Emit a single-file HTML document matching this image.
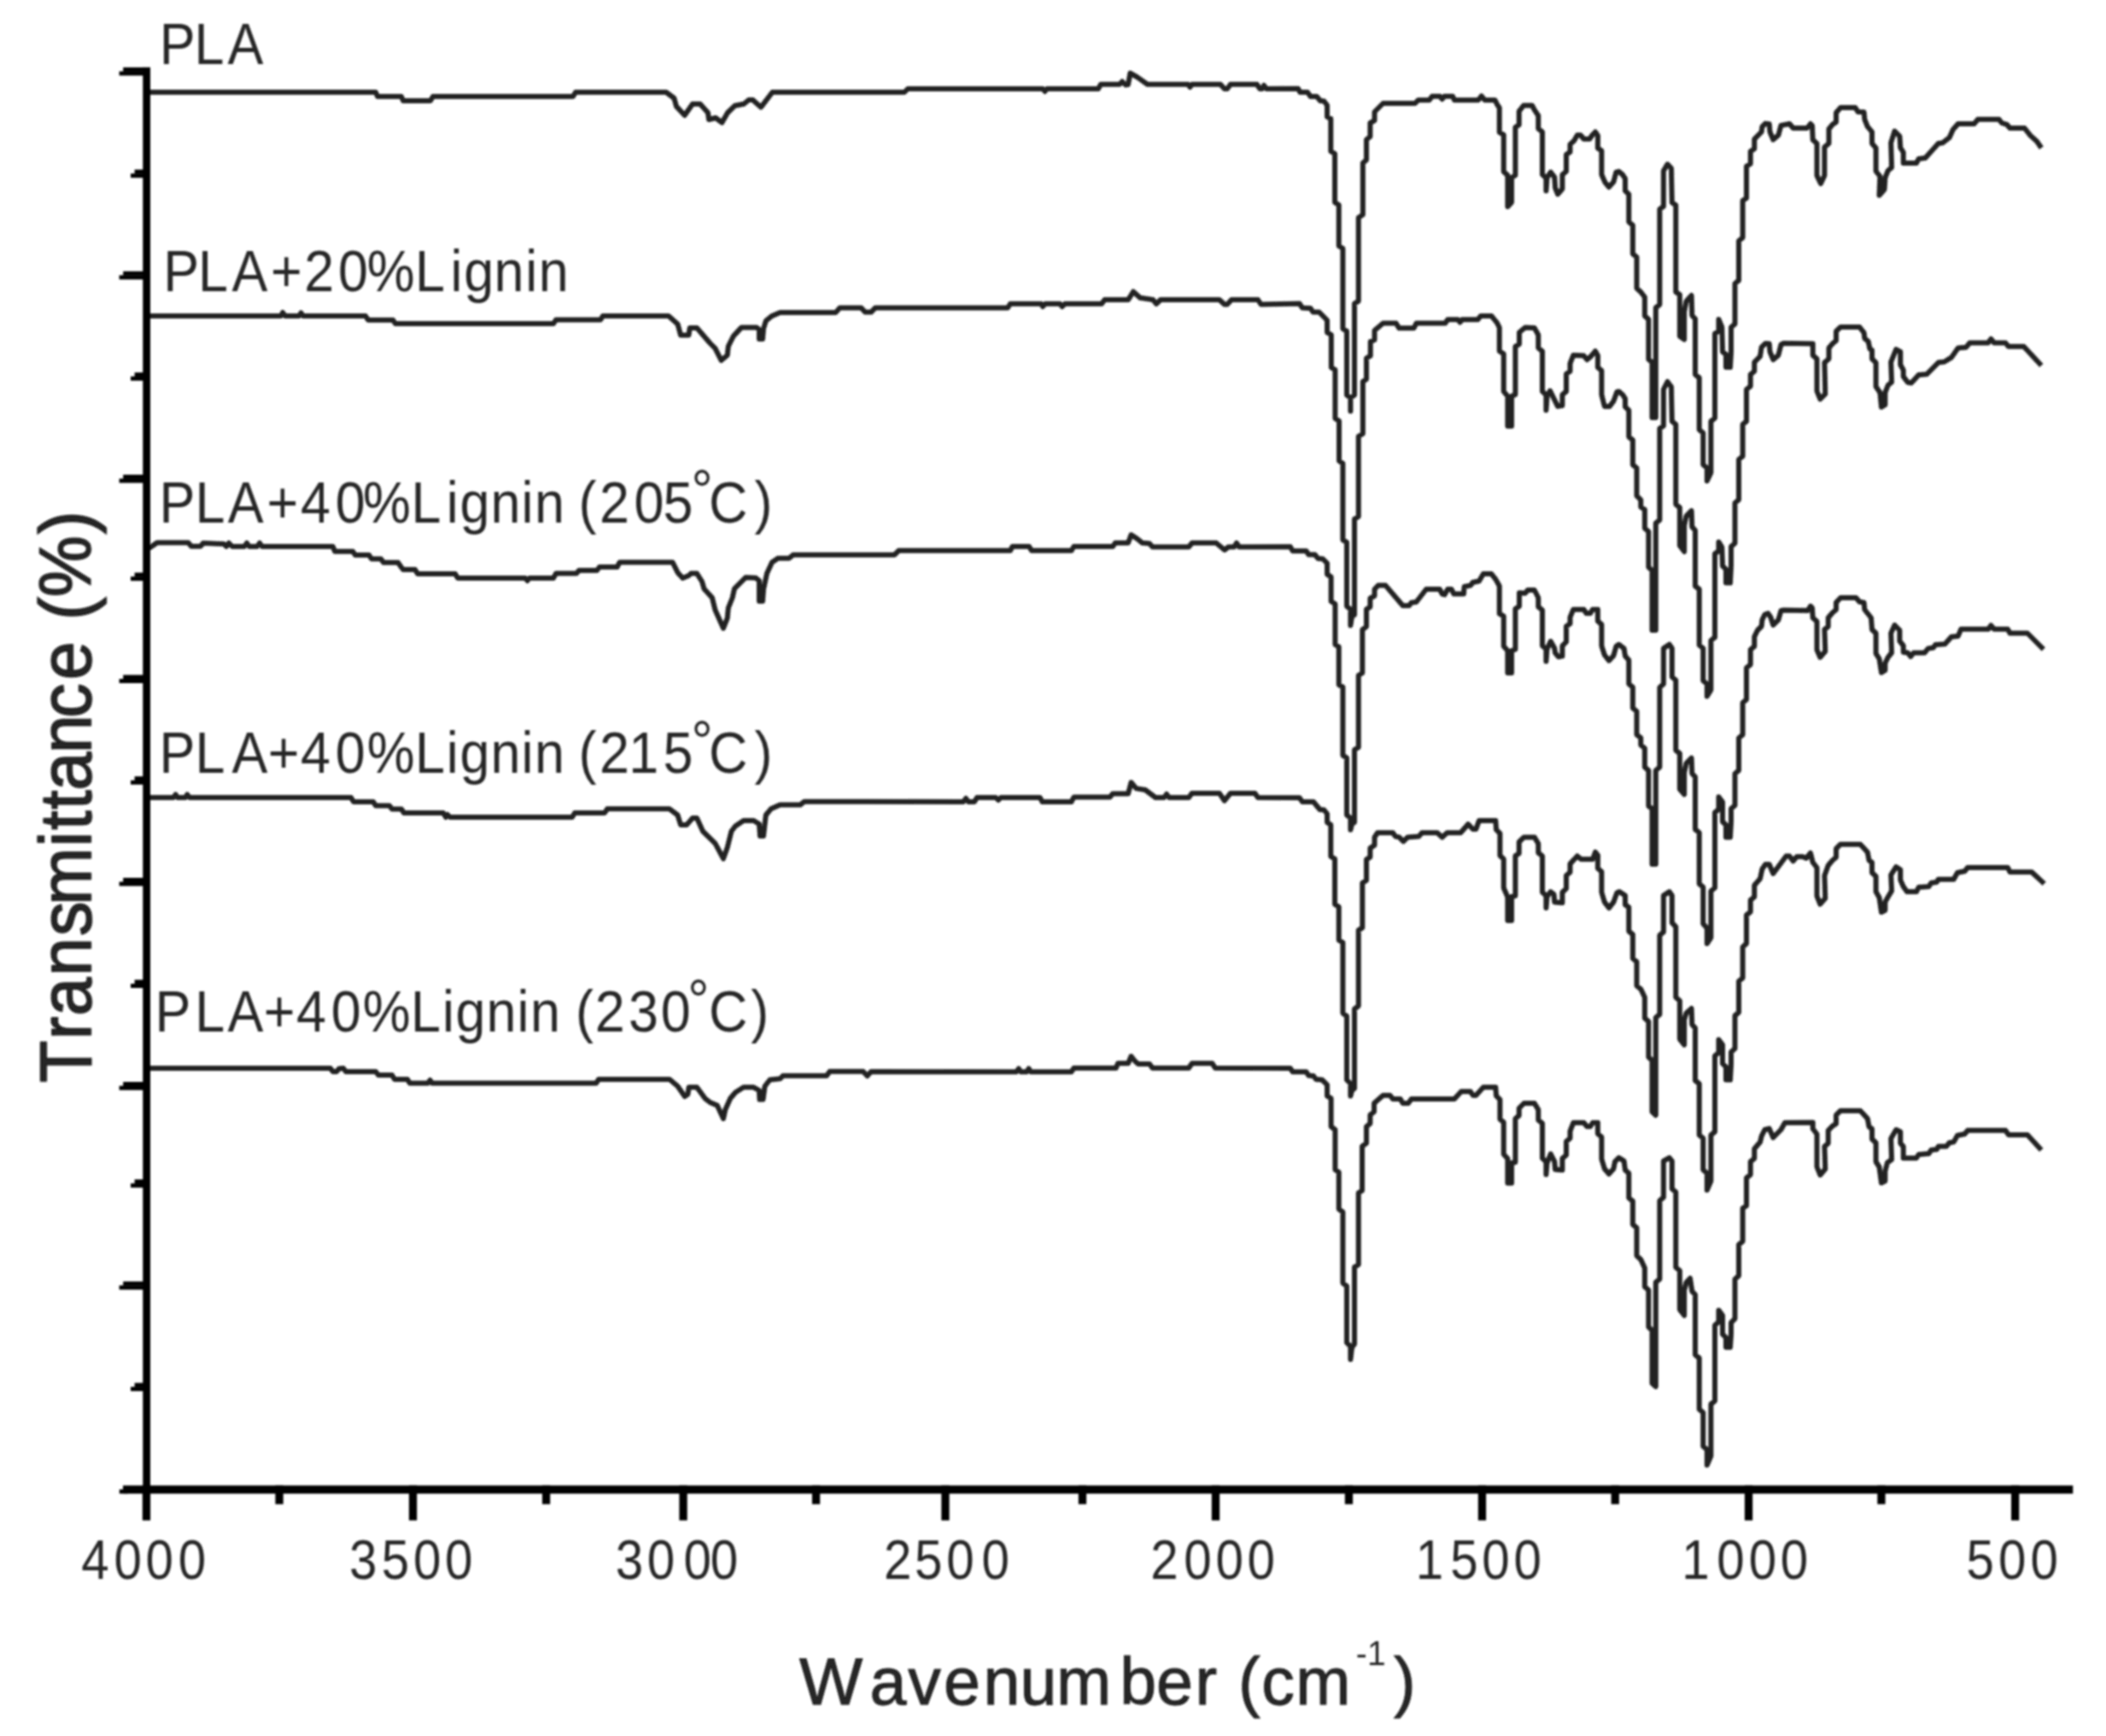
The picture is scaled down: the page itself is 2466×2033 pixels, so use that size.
<!DOCTYPE html>
<html><head><meta charset="utf-8"><title>FTIR spectra</title>
<style>
html,body{margin:0;padding:0;background:#fff;}
body{width:2466px;height:2033px;overflow:hidden;}
svg{display:block;}
text{font-family:"Liberation Sans",sans-serif;fill:#262626;}
.cv{fill:none;stroke:#222;stroke-width:6.0;stroke-linejoin:round;stroke-linecap:butt;}
</style></head><body>
<svg width="2466" height="2033" viewBox="0 0 2466 2033">
<defs><filter id="b" x="-2%" y="-2%" width="104%" height="104%"><feGaussianBlur stdDeviation="1.15"/></filter>
<filter id="b2" x="-2%" y="-2%" width="104%" height="104%"><feGaussianBlur stdDeviation="0.8"/></filter></defs>
<rect width="2466" height="2033" fill="#fff"/>

<g filter="url(#b)">
<polyline class="cv" points="171,108 440,108 442,113 470,113 472,118 504,118 507,113 671,113 674,108 780,108 789.4,115 792,124.6 801.7,135 811,121.8 819.8,121.8 829,132 830,140 838,138 845.4,143.6 852,132 860.6,123.7 871,121.8 876.8,117 881.5,117 891,125.6 904.4,108 1059,108 1063,104 1221,104 1223.6,107 1226,104 1286,104 1289,98.7 1311,98.7 1314,95.5 1318,99.5 1321,99 1323.4,85.6 1331.7,90.4 1343.5,98.7 1391,98.7 1393.4,102 1396,98.7 1429,98.7 1433.8,104 1437,104 1440.9,98.7 1471.7,98.7 1475.3,104 1478,104 1480,100 1483,104 1520,103.8 1522.3,108 1531,108 1534.6,113 1541.8,113 1546,118 1550.4,118.5 1554,123.2 1554,136.9 1558.3,139 1558.3,177.2 1563,180 1563,237 1567.7,240 1567.7,288 1572.4,291 1572.4,385 1577,387.9 1577,462.8 1581.4,465.6 1581.4,481.5 1581.4,465.6 1586,462.8 1586,355.5 1590.7,352.6 1590.7,255 1595.8,251.4 1595.8,191 1600,187.3 1600,163.5 1604.4,160 1604.4,144 1609.5,141.2 1609.5,131 1619.5,121 1657,121 1660.6,117.2 1673.6,117.2 1677,112.8 1686,112.8 1688.7,116 1691.5,112.8 1701,112.8 1703,117.2 1731,117.2 1734.8,112.5 1738.5,117.2 1750.6,117.2 1753.5,123.2 1755.7,126 1755.7,155 1760.7,157.8 1760.7,201 1765.4,205.3 1765.4,242 1770,237 1770,208 1774.4,205.3 1774.4,149 1778.7,146.3 1778.7,130.4 1784,123.5 1794,123.5 1796.7,128.6 1801.3,135.5 1801.3,150.7 1806,154.5 1806,204.6 1810.4,208.4 1810.4,223.6 1811.5,208 1815.7,201.6 1820.3,207.6 1821,219.8 1824,227.4 1829.4,221.3 1829.4,204.6 1834,200.8 1834,181 1838.5,178 1838.5,168.9 1843,165 1846.9,158.3 1850.7,158.3 1854.5,162.8 1861.3,162.8 1865,157.5 1868,154.5 1871,159 1870.9,173.5 1875.4,176.5 1875.4,204.6 1879.5,213.7 1884,219 1889.4,213 1892.4,201.6 1895.5,200.8 1900,204.6 1903,209.2 1903,223.6 1907.3,227.4 1907.3,260 1911.9,263.9 1911.9,297.3 1916.5,301 1916.5,337.6 1921.3,342 1925.9,348 1925.9,370 1930.4,374 1930.4,421 1934.5,424.2 1934.5,489 1938.8,489 1938.8,360.4 1943.4,356.6 1943.4,244.9 1947.9,241.8 1947.9,200 1952.5,192.4 1957,197 1957.8,237.3 1962.3,240.3 1962.3,342 1966.9,345 1966.9,393.8 1972.2,397.6 1972.2,365 1974.5,352.8 1980.6,346 1981.3,369.5 1985,373.3 1985,438.6 1989.7,442.4 1989.7,503.2 1994.3,507 1994.3,544.3 1998.8,548 1998.8,563.3 2003.4,553.4 2003.4,493.4 2008,489.6 2008,390.8 2012.5,387.7 2012.5,374 2016.3,383.2 2017,412 2021,415 2021,430 2026,430 2027,412 2027,383.2 2031.5,379.4 2031.5,332 2036,328.4 2036,282 2040.6,278.3 2040.6,235 2045,232 2045,194.7 2049.7,191.7 2049.7,177.2 2054.3,174.2 2054.3,162.8 2062.6,154.5 2063.4,148.4 2067.2,144.6 2071.7,145.3 2072.5,154.5 2076.3,163.6 2082.4,158.3 2085.4,146.9 2095.4,145 2099.7,150 2116,150 2120,145 2122,147 2122.7,163.8 2127.5,168 2127.5,205.6 2132,215 2136.4,205.6 2136.4,172.3 2141.5,168 2141.5,151 2145.8,145.8 2150,143 2150,132 2155.2,126 2172.3,126 2175.7,131 2182.6,131.3 2183.4,139.8 2186.8,148.4 2192,154.4 2192,168 2196.6,173.2 2196.6,200.5 2201.4,206.5 2200.5,228.7 2206.5,221.9 2207.4,208.2 2210.8,199.7 2215,196.2 2214.2,167.2 2218.5,153.5 2224.4,159.5 2225.3,173.2 2228.7,178.3 2228.7,191 2244,191 2246.7,186 2254.4,185 2269.7,168 2274.9,167.2 2282.6,161.2 2286.8,151.8 2292.8,145 2311.6,145 2315.9,139.8 2340.7,139.8 2344,144 2350,145.8 2353.5,150 2370.6,150 2377.4,158.6 2385,165.5 2390.3,173.2"/>
<polyline class="cv" points="171,370 329,370 331,366 334,370 350,370 352.5,366.5 355,370 428,370 431,374.7 460,374.7 463,379 648,379 651,374.6 703,374.6 706,370 782.8,370 793.5,379.4 797,392.4 806.5,392.4 807.7,384 816,384 831.5,402 837.4,407.9 844.5,422 851.7,416 852.8,405.5 858.8,393.6 868.3,383.4 886,383.4 889,386 889,397 893,397 894,385 896.8,375.8 904,369.9 913.4,365.9 978.7,365.9 983.4,360.4 1008.4,360.4 1013,365.6 1020,365.6 1025,360.4 1180,360.4 1183,355.8 1219,355.8 1221,359 1224,355.8 1241,355.8 1243.8,359 1247,355.8 1290,355.8 1293.5,351 1321,351 1323,348 1327,341.5 1335,348.7 1343.5,350 1350,351 1354,355.8 1359,351 1427.8,351 1433.8,356.5 1437,356.5 1442,351 1473,351 1476.5,356.5 1521.6,355.5 1525,360.5 1534.6,361 1537.4,365.5 1544.6,365.5 1554,375 1554,389.3 1558.8,392 1558.8,430.3 1563.4,433 1563.4,490 1568,493 1568,539.8 1572.4,542.7 1572.4,632.3 1577,635 1577,710 1581.4,713.6 1581.4,732.4 1583,722 1586,720 1586,607.8 1590.7,605 1590.7,511 1595.8,508 1595.8,447 1600,444 1600,419.5 1604.7,416.7 1604.7,400 1609.5,398 1609.5,387 1619.5,378.5 1634.7,378.5 1638.3,384.3 1655.6,384.3 1658.4,378.5 1692.3,378.5 1695.2,374.2 1707,374.2 1709.6,377.5 1712,374.2 1730.4,374.2 1734,369.9 1746.3,369.9 1752.8,377.8 1755.7,383.5 1755.7,411 1760.7,414.5 1760.7,458.4 1765.4,464 1765.4,499 1770,499 1770,464 1774.4,462 1774.4,405.9 1779,403 1779,389.3 1785.9,383.5 1796.7,384 1801.3,392.3 1801.3,407.5 1806,411.3 1806,458.4 1810.4,462.2 1810.4,480.4 1811.5,464 1815,457.6 1819.5,466.8 1824,475.9 1829.4,475 1829.4,462.2 1834,458.4 1834,437.9 1838.5,434.8 1838.5,425.7 1842.3,415.9 1854.5,416.6 1858.3,421.2 1862.8,417.4 1868,411.3 1871,416.6 1870.9,430.3 1875.4,434 1875.4,462.2 1878.8,475.9 1884.8,475.9 1889.4,469.8 1893.2,459.2 1895.5,458.4 1900,462.2 1903,466.8 1903,476.6 1907.3,480.4 1907.3,511.6 1911.9,515.4 1911.9,544.3 1916.5,548 1916.5,580.7 1921.3,585.3 1921.3,593.7 1925.9,596.7 1925.9,618.7 1930.4,622.5 1930.4,664.3 1934.5,668 1934.5,738 1938.8,738 1938.8,612.7 1943.4,609 1943.4,501.7 1947.9,498.7 1947.9,456 1952.5,447 1957,453 1957.8,493.4 1962.3,497 1962.3,590.6 1966.9,594.4 1966.9,639 1972.2,646 1972.2,615 1974.5,604.3 1980.6,598.2 1981.3,617.2 1985,621 1985,686.4 1989.7,690 1989.7,755.5 1994.3,759.3 1994.3,797.3 1998.8,801 1998.8,815.5 2003.4,808 2003.4,750 2008,746.4 2008,648.4 2012.5,645.3 2012.5,634.7 2016.3,640.8 2017,662.8 2021,666.6 2021,682.6 2026,682.6 2027,662 2027,640 2031.5,636.2 2031.5,589 2036,585.3 2036,538 2040.6,534.4 2040.6,497 2045,493.4 2045,456 2049.7,452.3 2049.7,438.6 2054.3,434.8 2054.3,424.2 2061,417.4 2062.6,406.7 2067.2,402.2 2071.7,402.6 2072.5,412 2076.3,421.2 2082.4,415.9 2085.4,403.7 2088.5,402 2122.7,402.4 2122.7,416 2127.5,420.3 2127.5,458 2131.3,467.4 2137.3,461.4 2136.4,424.6 2141.5,420.3 2141.5,407.5 2145.8,402.4 2150,399 2150,387.9 2155.2,383 2177.4,383 2182.6,389.6 2183.4,396.4 2187.7,399.8 2189.4,408.4 2192,410 2192,420.3 2196.6,424.6 2196.6,452.8 2201.4,459.7 2203,476.8 2207.4,474 2207.4,459.7 2210.8,451 2215,447.7 2214.2,423.8 2220.2,409.2 2225.3,411.8 2225.3,427.2 2228.7,433.2 2228.7,440.9 2233.8,447.7 2238,448.5 2246.7,439 2256,438.3 2269.7,424.6 2276.6,423.8 2285,418.6 2292.8,407.5 2302.2,406.7 2306.5,401.5 2328,401.5 2331.3,397 2335,401.5 2348.4,401.5 2351.8,405.8 2369.7,405.8 2390.3,428"/>
<polyline class="cv" points="171.5,641 176,641 184,635.5 220.4,635.5 224,639.7 235,639.7 238,636 262,637 265,640 268,636 272,640 286,640 289,636 292,640 301,640 304,636 307,640 389.8,640 392,645.7 413,645.7 416,650 432,650 435,654.4 446,654.4 449,658.7 466,658.7 469,663 472,667 486,667 489,672 533,672 536,677 615,677 617.6,680 620,677 648,677 651,671.6 675,671.6 678,668 699,668 702,664 722.6,664 725.6,658.5 787.6,658.5 793.5,670.4 799.4,677 806.6,674 809,671.6 816,671.6 822,681 824.4,689.4 833.9,700 837.4,714.3 847,735.7 851.7,723.8 852.8,712 857.6,700 860,689.4 873,676.3 885,676.8 889,680 889,704 893,704 894,690 898,671.6 904,658.5 911,653.8 924,653.8 928.8,649.7 1047.5,649.7 1052.3,644.8 1183,644.8 1185.5,640 1205,640 1208,644.8 1254.5,644.8 1257.5,640 1303,640 1306,635.8 1321,635.8 1324.5,626.3 1331.7,631 1337.6,635.8 1346,636.5 1349.5,640.5 1392,640.5 1395.8,635.8 1424,635.8 1433.8,644 1438.5,640.5 1445,640.5 1448,636 1451,640.5 1510.8,640.2 1513.7,645.2 1529.5,645.2 1532.4,649.5 1539.6,649.5 1543.2,653.9 1549,654.5 1554,659.6 1554,672.6 1558.6,675.5 1558.6,704.3 1563.4,707.2 1563.4,754.7 1567.7,757.6 1567.7,801.8 1572.4,804.6 1572.4,884.6 1577,887.5 1577,954.4 1581.4,958 1581.4,971.7 1583,965 1586,963 1586,878 1590.7,875.2 1590.7,791 1595.3,788 1595.3,737.4 1600,733.8 1600,713.6 1604.4,710.8 1604.4,700.7 1609.5,697.8 1609.5,690 1613.8,685.6 1622.4,685.6 1642.6,709.3 1649.8,709.3 1652.7,705.7 1658.4,705 1670,690 1685.8,690 1688.7,695.6 1691.5,696.4 1695.2,690 1699.5,690 1702.4,695.6 1713.9,695.6 1714.6,687 1721.8,685.6 1724.7,682 1731.9,680.5 1736.9,672 1746.3,672 1751.3,678.4 1755.7,686.3 1755.7,718.7 1760.7,721.6 1760.7,756.8 1765.4,762 1765.4,788 1770,788 1770,762 1774.4,760.4 1774.4,713 1779,710 1779,694.2 1786,694.7 1789,691 1796.7,691 1801.3,700 1801.3,710.7 1806,714.5 1806,756.3 1810.4,760 1810.4,774.5 1811.5,760 1815.7,751 1820.3,759.3 1821,764.6 1824.8,769.2 1829.4,768.4 1829.4,756.3 1834,751.7 1834,733.5 1838.5,730.4 1838.5,722.8 1842.3,713.7 1854.5,713.7 1857.5,718.3 1862,718.3 1865,713.7 1870.9,713.7 1870.9,727.4 1875.4,731.2 1875.4,756.3 1878.8,767 1884,773.7 1889.4,767.7 1892.4,757 1895.5,754.7 1901.6,759.3 1903,768.4 1907.3,773 1907.3,801 1911.9,804.9 1911.9,829.2 1916.5,833 1916.5,860.4 1921.3,864.2 1921.3,872.5 1925.9,876.3 1925.9,898.4 1930.4,902.2 1930.4,944 1934.5,947 1934.5,1012 1938.8,1012 1938.8,902.2 1943.4,898.4 1943.4,804.9 1947.9,801 1947.9,759.3 1954.7,754.7 1957.8,759.3 1957.8,792.7 1962.3,796.5 1962.3,878.6 1966.9,882.4 1966.9,924.2 1972.2,930.3 1972.2,904.5 1974.5,893.8 1980.6,887.7 1981.3,906 1985,909.8 1985,971.3 1989.7,975 1989.7,1035 1994.3,1039 1994.3,1082 1998.8,1086.8 1998.8,1105 2003.4,1098 2003.4,1043.5 2008,1039.7 2008,951.6 2012.5,947.8 2012.5,933.3 2017,939.4 2017,962.2 2021,966 2021,980.4 2026,980.4 2027,962 2027,947 2031.5,943.2 2031.5,906 2036,902.2 2036,864.2 2040.6,860.4 2040.6,823 2045,819.3 2045,782 2049.7,778.3 2049.7,760.8 2054.3,757 2054.3,745.6 2058,738 2062.6,733.5 2063.4,725.9 2066.4,719.8 2070.2,718.3 2073.3,722.8 2076.3,732 2082.4,725.9 2085.4,715.2 2088.5,714.5 2116.8,715 2120,709.8 2122,712 2122.7,723.5 2127.5,727.8 2127.5,761 2131.3,769.7 2137.3,762.8 2136.4,737.2 2140.7,733.8 2140.7,723.5 2145.8,717.5 2150,714 2150,705.6 2155.2,700 2173.2,700 2177.4,704.7 2182.6,705.6 2183.4,714 2191,723.5 2192,737.2 2196.6,741.5 2196.6,765.4 2200.5,771.4 2203,787.6 2207.4,785 2207.4,776.5 2210.8,769.7 2215,764.5 2214.2,741.5 2218.5,732 2224.4,738 2224.4,750.9 2228.7,756 2228.7,763.7 2234,764.5 2237.3,768.8 2240.7,764.5 2253.5,764.5 2257.8,759.4 2263.8,758.5 2266.3,755 2277.4,754.3 2285,745.7 2292.8,744.9 2296.2,736.8 2328,736.8 2331.3,732.5 2335,736.8 2351,736.8 2353.5,741.5 2374,741.5 2392.8,760.3"/>
<polyline class="cv" points="171.5,934 203,934 205.6,930.5 208,934 217,934 219.3,930.5 222,934 411,934 414,939 437,939 440,943.5 456,943.5 459,947.5 470,947.5 473,952 519,952 522,957 524,954 527,957 670,957 673,952 708,952 711,947.3 784,947.3 793.5,954.5 797,965.9 804,965.9 811,958 816,958 823,973.5 837.4,987.7 847,1005.5 851.7,992.5 856.4,973.5 861,967.5 870.7,961 882.5,961 889,965 890,979 894,979 896.8,954.5 902.7,947.3 913.4,942.6 937,942.6 941.9,938.7 1128,938.9 1131,935 1134,938.9 1141,938.9 1144,934 1166,934 1169,937 1172,934 1217.7,934 1220.5,938.9 1254.5,938.9 1257.5,933.6 1299.6,933.6 1303,929.4 1321,929.4 1324.5,916.3 1330.5,923.4 1341,925 1353,934 1363,934 1366,930 1369,934 1392,934 1395.8,928.9 1427.8,928.9 1433.8,937.7 1440.9,928.9 1469.4,928.9 1473,934 1521.6,934.3 1525,939 1538,939 1545.4,948 1550.4,948.5 1554,953 1554,963 1558.3,966 1558.3,1003 1563,1005.8 1563,1059 1567.7,1062 1567.7,1101 1572.4,1103.8 1572.4,1186.6 1577,1190 1577,1264.6 1581.4,1269 1581.4,1283.4 1583,1277 1586,1274.7 1586,1181.6 1590.7,1178 1590.7,1089.4 1595.3,1086.5 1595.3,1034 1600,1031 1600,1006.6 1604.4,1003.7 1604.4,993.3 1609.5,989.7 1609.5,980.4 1613,975.3 1631,975.3 1634,979.6 1638.3,980.4 1643.3,985.4 1648.3,980.4 1661.3,979.6 1665,975.3 1683,975.3 1688.7,980.4 1694.4,975.3 1710.3,975.3 1719,965.2 1724.7,971 1728.3,971 1731.9,961 1751.3,961 1752,971.7 1756.4,976 1756.4,1002 1760.7,1006 1760.7,1039.7 1765.4,1050.5 1765.4,1077.9 1770,1077.9 1770,1050 1774.4,1049 1774.4,1002.2 1778.7,999.4 1778.7,986 1784.5,980.4 1796.7,980.4 1801.3,988 1801.3,998.7 1806,1002.5 1806,1045 1810.4,1048.8 1810.4,1063.3 1811.5,1050 1815.7,1044.3 1819.5,1047.3 1820.3,1056.4 1829.4,1057.2 1829.4,1045 1834,1040.5 1834,1025.3 1838.5,1021.5 1838.5,1011.6 1846.9,1002.5 1851.4,1006.3 1865,1006.3 1868,997.9 1871,1001.7 1870.9,1017 1875.4,1020.7 1875.4,1045 1878.8,1056.4 1884,1063.3 1889.4,1056.4 1893.2,1045.8 1896.2,1044.3 1903,1048.8 1903,1059.5 1907.3,1062.5 1907.3,1090.6 1911.9,1094.4 1911.9,1122.5 1916.5,1126.3 1916.5,1154.5 1921.3,1158.3 1925.9,1168 1925.9,1192.4 1930.4,1196.2 1930.4,1238 1934.5,1241.8 1934.5,1302 1938.8,1306 1938.8,1191.7 1943.4,1187.9 1943.4,1095.2 1947.9,1091.4 1947.9,1048.8 1954.7,1044.3 1957.8,1048.8 1957.8,1080.7 1962.3,1085.3 1962.3,1168 1966.9,1172 1966.9,1216.8 1972.2,1223.6 1972.2,1194 1974.5,1186.4 1980.6,1181 1981.3,1200 1985,1203.8 1985,1265.4 1989.7,1269.2 1989.7,1329.2 1994.3,1333 1994.3,1370 1998.8,1374 1998.8,1393.8 2003.4,1383 2003.4,1329.2 2008,1325.4 2008,1236.5 2012.5,1232.7 2012.5,1217.5 2017,1223.6 2017,1245.6 2021,1249.4 2021,1264.6 2026,1264.6 2027,1246 2027,1232 2031.5,1228 2031.5,1189.4 2036,1185.6 2036,1149 2040.6,1145.3 2040.6,1109 2045,1105 2045,1071.6 2049.7,1067.8 2049.7,1054 2054.3,1050.3 2054.3,1036.7 2061,1029 2063.4,1017.7 2067.2,1012.3 2071.7,1012.3 2076.3,1023 2091.5,1002.5 2095.3,1002.5 2099.7,1008.4 2104,1003.2 2110.8,1003.2 2115,1005 2120,999 2122.7,1010 2127.5,1016 2127.5,1049.4 2131.3,1058.8 2137.3,1052 2136.4,1025.5 2140.7,1013.5 2145.8,1007.5 2150,1004 2150,993.8 2155.2,988.7 2178.3,988.7 2186.8,998 2188.5,1007.5 2192,1010 2192,1022 2196.6,1026.3 2196.6,1044.3 2200.5,1051 2203,1068.2 2207.4,1066 2207.4,1056.2 2210.8,1050.3 2215,1043.4 2214.2,1024.6 2220.2,1015.2 2225.3,1018.6 2225.3,1030.6 2228.7,1038.3 2233,1044.3 2244,1044.3 2246.7,1039 2258.6,1038.3 2261.2,1034 2268,1033 2269.7,1029.7 2287.7,1029.7 2292,1022 2300.5,1020.3 2304,1016 2351,1016 2353.5,1021.2 2379,1021.2 2393.7,1034.9"/>
<polyline class="cv" points="171.5,1251 386.7,1251 390,1255 394,1255 397,1251.5 402,1251 405,1255 440,1255 443,1259 459,1259 462,1264 477,1264 480,1268.6 501,1268.6 503.6,1265 506,1268.6 698,1268.6 701,1264 784,1264 793.5,1272 801.8,1284 805.4,1281.6 806.6,1273.3 816,1273.3 825.5,1286.3 831.5,1291 839.8,1294.6 847,1310 849.3,1299.4 855.2,1286.3 861.2,1279.2 870.7,1273.3 882.5,1273.3 889,1277 889.5,1287.5 893.5,1287.5 895.6,1272 901.5,1264.5 913.4,1263.3 917,1259.7 968,1259.7 971.6,1254.8 1010.7,1254.8 1015.5,1260 1020,1255 1190,1255.2 1192.8,1251.5 1195.5,1255.2 1202,1255.2 1204.6,1251.5 1207,1255.2 1254.5,1255.2 1257.5,1250.8 1306.7,1250.8 1309,1245.3 1321,1245.3 1324.5,1237 1329.3,1243 1332.8,1246 1346,1246 1349.5,1250.8 1392,1250.8 1395.8,1245.3 1419.5,1245.3 1423,1250.8 1510.8,1251 1513.7,1255.3 1529.5,1255.3 1532.4,1259.6 1538,1260 1541,1264 1548,1264.5 1554,1270.4 1554,1283.4 1558.6,1286.3 1558.6,1319.4 1563.4,1323 1563.4,1369.8 1567.7,1372.7 1567.7,1415.9 1572.4,1419.5 1572.4,1502.6 1577,1506.2 1577,1572.4 1581.4,1576.7 1581.4,1591.9 1583,1578 1586,1573.9 1586,1483.8 1590.7,1481 1590.7,1397 1595,1394.3 1595,1342.4 1600,1338.8 1600,1319.4 1604.4,1315.8 1604.4,1305.7 1609,1302 1609,1292 1613.8,1287.7 1619.5,1282.7 1627.5,1282.7 1631,1287 1639.7,1287 1642.6,1292 1649,1292 1652.7,1287 1703,1287 1711,1278.3 1721.8,1278.3 1724.7,1282.7 1728.3,1282.7 1736.9,1273.3 1751.3,1273.3 1752,1283.4 1756.4,1287.7 1756.4,1310.7 1760.7,1314.3 1760.7,1351.8 1765.4,1356.8 1765.4,1385.6 1770,1385.6 1770,1362 1774.4,1361 1774.4,1310 1778.7,1306.4 1778.7,1297.8 1784.5,1292 1796.7,1292 1801.3,1299.6 1801.3,1311.7 1806,1315.5 1806,1356.6 1810.4,1360.4 1810.4,1375.6 1811.5,1362 1815.7,1351.3 1820.3,1360.4 1821,1369.5 1829.4,1370.3 1829.4,1356.6 1834,1352.8 1834,1336.8 1838.5,1333 1838.5,1324.6 1842.3,1314.8 1854.5,1314.8 1858.3,1319.3 1862,1319.3 1865,1314.8 1870.9,1314.8 1870.9,1327.7 1875.4,1331.5 1875.4,1357.4 1878.8,1368.7 1884,1374.8 1889.4,1368.7 1891,1360.4 1895.5,1355.8 1901.6,1359.6 1903,1370.3 1907.3,1374 1907.3,1403 1911.9,1406.7 1911.9,1434 1916.5,1437.9 1916.5,1470.6 1921.3,1475 1925.9,1485 1925.9,1507 1930.4,1510.8 1930.4,1554 1934.5,1558 1934.5,1620 1938.8,1623.8 1938.8,1501.7 1943.4,1498 1943.4,1406 1947.9,1402.2 1947.9,1359.6 1954.7,1355.8 1957.8,1359.6 1957.8,1392.3 1962.3,1396 1962.3,1484.2 1966.9,1488 1966.9,1533.6 1972.2,1540.5 1972.2,1510.8 1974.5,1501.7 1979,1497 1981.3,1512.3 1985,1516 1985,1586.6 1989.7,1590.4 1989.7,1650.4 1994.3,1654.2 1994.3,1693.7 1998.8,1697.5 1998.8,1715.8 2003.4,1705 2003.4,1644.4 2008,1640.6 2008,1551.9 2012.5,1548 2012.5,1534.4 2017,1540.5 2017,1562.5 2021,1566.3 2021,1577.7 2026,1577.7 2027,1562 2027,1548.8 2031.5,1544.3 2031.5,1498 2036,1494 2036,1457.6 2040.6,1453.8 2040.6,1415 2045,1412 2045,1379.4 2049.7,1375.6 2049.7,1360.4 2054.3,1356.6 2054.3,1345.2 2061,1337.6 2062.6,1330.7 2066.4,1323 2071.7,1321.6 2076.3,1332.2 2085.4,1323 2090,1314.8 2122.7,1314.4 2122.7,1322 2127.5,1328 2127.5,1366.5 2131.3,1376 2137.3,1369 2136.4,1342.6 2140.7,1339 2140.7,1323.8 2145.8,1318.6 2150,1316 2150,1305.8 2155.2,1300.7 2178.3,1300.7 2186.8,1310 2188.5,1319.5 2192,1322 2192,1334 2196.6,1338.3 2196.6,1360.5 2200.5,1366.5 2203,1385.3 2207.4,1383 2207.4,1371.6 2210,1361.4 2215,1358 2214.2,1333.2 2220.2,1323 2225.3,1325.5 2225.3,1339 2228.7,1342.6 2228.7,1356.2 2244,1356.2 2246.7,1352 2258.6,1351 2261.2,1346.8 2268,1346 2269.7,1342.6 2279,1342.6 2282.6,1338.3 2287.7,1337.4 2292,1329.7 2300.5,1328 2304,1323.8 2348.4,1323.8 2351.8,1328.9 2374,1328.9 2390.3,1346.8"/>
</g>
<g fill="#000" filter="url(#b2)">
<rect x="167.3" y="78.8" width="8.7" height="1670.4"/>
<rect x="144" y="1739.6" width="2283.3" height="9.6"/>
<rect x="139.8" y="1744.1999999999998" width="10" height="5.0"/>
<rect x="166.8" y="1739.6" width="9.3" height="40.9"/>
<rect x="478.9" y="1739.6" width="9.3" height="40.9"/>
<rect x="795.4" y="1739.6" width="9.3" height="40.9"/>
<rect x="1102.3" y="1739.6" width="9.3" height="40.9"/>
<rect x="1418.8" y="1739.6" width="9.3" height="40.9"/>
<rect x="1730.8" y="1739.6" width="9.3" height="40.9"/>
<rect x="2042.9" y="1739.6" width="9.3" height="40.9"/>
<rect x="2355.0" y="1739.6" width="9.3" height="40.9"/>
<rect x="322.4" y="1739.6" width="9.3" height="21.9"/>
<rect x="634.9" y="1739.6" width="9.3" height="21.9"/>
<rect x="950.9" y="1739.6" width="9.3" height="21.9"/>
<rect x="1262.8" y="1739.6" width="9.3" height="21.9"/>
<rect x="1574.8" y="1739.6" width="9.3" height="21.9"/>
<rect x="1886.6" y="1739.6" width="9.3" height="21.9"/>
<rect x="2198.3" y="1739.6" width="9.3" height="21.9"/>
<rect x="144.2" y="78.9" width="24.1" height="5"/>
<rect x="139.6" y="83.5" width="28.7" height="5"/>
<rect x="157.6" y="198.6" width="10.7" height="5"/>
<rect x="153.0" y="203.2" width="15.3" height="5"/>
<rect x="144.2" y="317.7" width="24.1" height="5"/>
<rect x="139.6" y="322.3" width="28.7" height="5"/>
<rect x="157.6" y="436.2" width="10.7" height="5"/>
<rect x="153.0" y="440.8" width="15.3" height="5"/>
<rect x="144.2" y="555.9" width="24.1" height="5"/>
<rect x="139.6" y="560.5" width="28.7" height="5"/>
<rect x="157.6" y="670.6" width="10.7" height="5"/>
<rect x="153.0" y="675.2" width="15.3" height="5"/>
<rect x="144.2" y="790.4" width="24.1" height="5"/>
<rect x="139.6" y="795.0" width="28.7" height="5"/>
<rect x="157.6" y="909.2" width="10.7" height="5"/>
<rect x="153.0" y="913.8" width="15.3" height="5"/>
<rect x="144.2" y="1028.0" width="24.1" height="5"/>
<rect x="139.6" y="1032.6" width="28.7" height="5"/>
<rect x="157.6" y="1147.4" width="10.7" height="5"/>
<rect x="153.0" y="1152.0" width="15.3" height="5"/>
<rect x="144.2" y="1267.0" width="24.1" height="5"/>
<rect x="139.6" y="1271.6" width="28.7" height="5"/>
<rect x="157.6" y="1381.2" width="10.7" height="5"/>
<rect x="153.0" y="1385.8" width="15.3" height="5"/>
<rect x="144.2" y="1500.7" width="24.1" height="5"/>
<rect x="139.6" y="1505.3" width="28.7" height="5"/>
<rect x="157.6" y="1619.5" width="10.7" height="5"/>
<rect x="153.0" y="1624.1" width="15.3" height="5"/>
</g>
<g filter="url(#b)">
<text x="205.1 250.1 292.8" y="74.9" font-size="69" transform="scale(0.91,1)">PLA</text>
<text x="210.1 255.0 298.3 348.5 391.6 435.3 472.2 534.1 579.6 596.9 635.6 676.0 693.1" y="341.4" font-size="69" transform="scale(0.91,1)">PLA+20%Lignin</text>
<text x="204.9 251.0 293.2 343.3 386.9 431.5 467.0 529.0 574.5 591.7 631.2 670.9 687.9 725.3 744.6 771.3 815.9 853.4 889.5 912.1 970.8" y="611.6 611.6 611.6 611.6 611.6 611.6 611.6 611.6 611.6 611.6 611.6 611.6 611.6 611.6 611.6 611.6 611.6 611.6 598.4 611.6 611.6" font-size="69" transform="scale(0.91,1)">PLA+40%Lignin (205°C)</text>
<text x="204.9 251.0 298.3 344.7 386.9 431.5 472.2 534.1 574.5 591.7 631.2 670.9 687.9 725.3 744.6 771.3 809.2 853.4 889.5 912.1 970.8" y="905.0 905.0 905.0 905.0 905.0 905.0 905.0 905.0 905.0 905.0 905.0 905.0 905.0 905.0 905.0 905.0 905.0 905.0 891.8 905.0 905.0" font-size="69" transform="scale(0.91,1)">PLA+40%Lignin (215°C)</text>
<text x="199.4 250.8 292.8 339.2 381.4 426.0 466.7 528.6 569.2 586.2 625.7 665.4 682.5 719.8 740.7 765.8 808.9 850.3 884.9 912.1 966.1" y="1207.8 1207.8 1207.8 1207.8 1207.8 1207.8 1207.8 1207.8 1207.8 1207.8 1207.8 1207.8 1207.8 1207.8 1207.8 1207.8 1207.8 1207.8 1194.6 1207.8 1207.8" font-size="69" transform="scale(0.91,1)">PLA+40%Lignin (230°C)</text>
<text x="107.1 149.9 191.5 234.7" y="1849.5" font-size="65.5" transform="scale(0.89,1)">4000</text>
<text x="459.5 502.1 543.7 585.3" y="1849.5" font-size="65.5" transform="scale(0.89,1)">3500</text>
<text x="809.9 851.4 899.5 934.6" y="1849.5" font-size="65.5" transform="scale(0.89,1)">3000</text>
<text x="1162.8 1203.4 1245.2 1291.6" y="1849.5" font-size="65.5" transform="scale(0.89,1)">2500</text>
<text x="1513.8 1557.7 1599.4 1640.9" y="1849.5" font-size="65.5" transform="scale(0.89,1)">2000</text>
<text x="1862.7 1908.2 1949.8 1991.5" y="1849.5" font-size="65.5" transform="scale(0.89,1)">1500</text>
<text x="2212.7 2258.8 2300.9 2342.5" y="1849.5" font-size="65.5" transform="scale(0.89,1)">1000</text>
<text x="2587.0 2629.2 2671.4" y="1849.5" font-size="65.5" transform="scale(0.89,1)">500</text>
<text x="935.9 1018.5 1063.3 1104.9 1151.6 1194.4 1237.1 1311.2 1353.9 1399.5 1435.0 1450.1 1477.3 1517.3" y="1996.0" font-size="77" fill="#101010" stroke="#101010" stroke-width="0.9"><tspan font-size="78.5">W</tspan>avenumber (cm</text>
<text x="1671.2 1685.3" y="1949.6" font-size="41" transform="scale(0.95,1)" fill="#3a3a3a">-1</text>
<text x="1632.0" y="1996.0" font-size="77" fill="#101010" stroke="#101010" stroke-width="0.9">)</text>
<text transform="translate(106.2,0) rotate(-90) scale(0.95,1)" x="-1334.6 -1281.6 -1252.3 -1203.0 -1153.9 -1115.7 -1043.8 -1023.0 -997.9 -974.5 -928.6 -885.0 -838.1 -784.2 -764.4 -736.0 -658.2" y="0" font-size="85" fill="#101010" stroke="#101010" stroke-width="1.5">Transmittance (%)</text>
</g>
</svg></body></html>
